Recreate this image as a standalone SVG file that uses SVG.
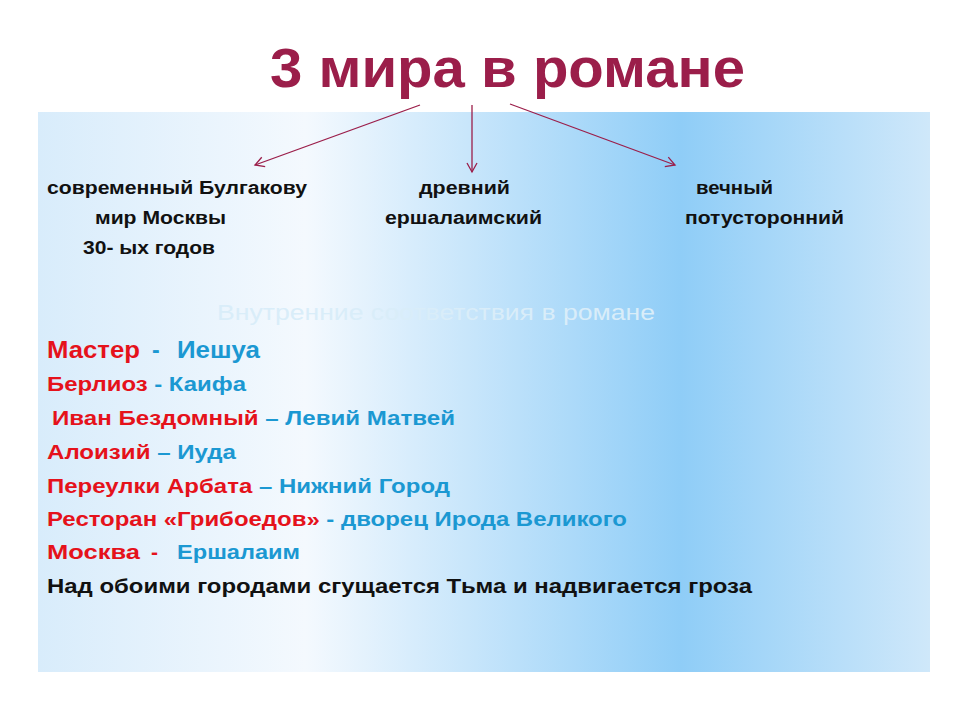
<svg xmlns="http://www.w3.org/2000/svg" width="960" height="720" viewBox="0 0 960 720">
<defs>
<linearGradient id="bg" x1="0" y1="0" x2="1" y2="0">
<stop offset="0" stop-color="#d8ecfb"/>
<stop offset="0.3" stop-color="#f4f9fe"/>
<stop offset="0.72" stop-color="#8fcdf7"/>
<stop offset="1" stop-color="#cfe8fa"/>
</linearGradient>
<marker id="ah" markerWidth="12" markerHeight="12" refX="10" refY="6" orient="auto" markerUnits="userSpaceOnUse">
<path d="M1,1 L10,6 L1,11" fill="none" stroke="#9b1e4a" stroke-width="1.3"/>
</marker>
<style>
text{font-family:"Liberation Sans",Arial,sans-serif;font-weight:bold}
.s{font-size:18px;fill:#111}
.b{font-size:21px}
.r{fill:#e5121b}
.u{fill:#1b98d2}
.k{fill:#111}
</style>
</defs>
<rect width="960" height="720" fill="#fff"/>
<rect x="38" y="112" width="892" height="560" fill="url(#bg)"/>
<g id="title"><text x="270" y="87" font-size="56" fill="#9b1e4a" textLength="475" lengthAdjust="spacingAndGlyphs">3 мира в романе</text></g>
<g id="connectors" stroke="#9b1e4a" stroke-width="1.3" fill="none">
<line x1="420" y1="105" x2="255" y2="165" marker-end="url(#ah)"/>
<line x1="472" y1="105" x2="472" y2="172" marker-end="url(#ah)"/>
<line x1="510" y1="104" x2="675" y2="165" marker-end="url(#ah)"/>
</g>
<g id="world1"><text class="s" x="47" y="194" textLength="260" lengthAdjust="spacingAndGlyphs">современный Булгакову</text><text class="s" x="95" y="224" textLength="131" lengthAdjust="spacingAndGlyphs">мир Москвы</text><text class="s" x="83" y="254" textLength="132" lengthAdjust="spacingAndGlyphs">30- ых годов</text></g>
<g id="world2"><text class="s" x="419" y="194" textLength="91" lengthAdjust="spacingAndGlyphs">древний</text><text class="s" x="385" y="224" textLength="157" lengthAdjust="spacingAndGlyphs">ершалаимский</text></g>
<g id="world3"><text class="s" x="696" y="194" textLength="77" lengthAdjust="spacingAndGlyphs">вечный</text><text class="s" x="685" y="224" textLength="159" lengthAdjust="spacingAndGlyphs">потусторонний</text></g>
<g id="list">
<text x="217" y="320" font-size="22" fill="#d9edf9" style="font-weight:normal" textLength="438" lengthAdjust="spacingAndGlyphs">Внутренние соответствия в романе</text>
<text class="b" x="47" y="358" style="font-size:23px"><tspan class="r" textLength="93" lengthAdjust="spacingAndGlyphs">Мастер</tspan><tspan class="u" x="152">-</tspan><tspan class="u" x="177" textLength="83" lengthAdjust="spacingAndGlyphs">Иешуа</tspan></text>
<text class="b" x="47" y="391" textLength="199" lengthAdjust="spacingAndGlyphs"><tspan class="r">Берлиоз</tspan><tspan class="u"> - Каифа</tspan></text>
<text class="b" x="52" y="425" textLength="403" lengthAdjust="spacingAndGlyphs"><tspan class="r">Иван Бездомный</tspan><tspan class="u"> – Левий Матвей</tspan></text>
<text class="b" x="47" y="459" textLength="189" lengthAdjust="spacingAndGlyphs"><tspan class="r">Алоизий</tspan><tspan class="u"> – Иуда</tspan></text>
<text class="b" x="47" y="493" textLength="403" lengthAdjust="spacingAndGlyphs"><tspan class="r">Переулки Арбата</tspan><tspan class="u"> – Нижний Город</tspan></text>
<text class="b" x="47" y="526" textLength="580" lengthAdjust="spacingAndGlyphs"><tspan class="r">Ресторан «Грибоедов»</tspan><tspan class="u"> - дворец Ирода Великого</tspan></text>
<text class="b" x="47" y="559"><tspan class="r" textLength="93" lengthAdjust="spacingAndGlyphs">Москва</tspan><tspan class="r" x="151">-</tspan><tspan class="u" x="177" textLength="123" lengthAdjust="spacingAndGlyphs">Ершалаим</tspan></text>
<text class="b k" x="47" y="593" textLength="705" lengthAdjust="spacingAndGlyphs">Над обоими городами сгущается Тьма и надвигается гроза</text>
</g>
</svg>
